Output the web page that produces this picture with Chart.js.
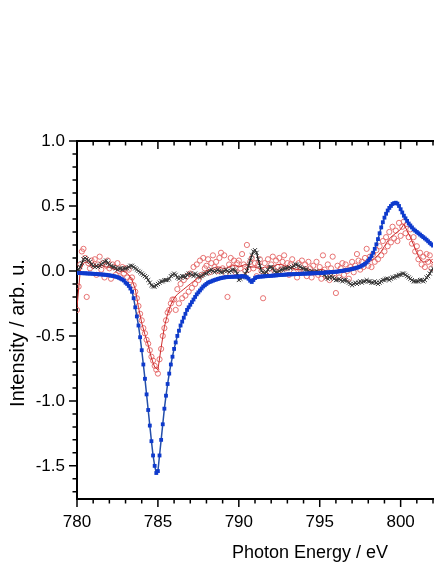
<!DOCTYPE html>
<html>
<head>
<meta charset="utf-8">
<script src="https://cdn.jsdelivr.net/npm/chart.js@4"></script>
<style>
  html, body { margin: 0; padding: 0; background: #fff; overflow: hidden; }
  #wrap { width: 438px; height: 564px; }
</style>
</head>
<body>
<div id="wrap"><canvas id="chart" width="438" height="564"></canvas></div>
<script>
// photon energy grid (eV)
const E_START = 780;
const FINE_STEP = 0.1;   // blue squares, red circles, black crosses
const COARSE_STEP = 0.2; // smoothed red line

const xMajorTicks = [780, 785, 790, 795, 800];
const yMajorTicks = [-1.5, -1.0, -0.5, 0.0, 0.5, 1.0];

// blue squares, 780.0 ... 802.0 every 0.1 eV
const blueVals = [
  -0.015, -0.016, -0.016, -0.017, -0.018, -0.018, -0.019, -0.020, -0.020, -0.021,
  -0.022, -0.023, -0.024, -0.025, -0.026, -0.027, -0.028, -0.029, -0.030, -0.032,
  -0.034, -0.036, -0.038, -0.041, -0.044, -0.048, -0.053, -0.059, -0.066, -0.074,
  -0.090, -0.100, -0.115, -0.135, -0.160, -0.210, -0.280, -0.350, -0.420, -0.510,
  -0.610, -0.720, -0.830, -0.950, -1.070, -1.190, -1.310, -1.420, -1.500, -1.555,
  -1.540, -1.420, -1.300, -1.180, -1.060, -0.960, -0.870, -0.790, -0.720, -0.660,
  -0.600, -0.550, -0.500, -0.460, -0.420, -0.390, -0.360, -0.330, -0.300, -0.280,
  -0.260, -0.240, -0.220, -0.200, -0.180, -0.165, -0.150, -0.135, -0.120, -0.110,
  -0.100, -0.090, -0.085, -0.080, -0.075, -0.070, -0.066, -0.062, -0.058, -0.055,
  -0.052, -0.050, -0.048, -0.047, -0.046, -0.045, -0.045, -0.044, -0.044, -0.043,
  -0.043, -0.042, -0.040, -0.042, -0.045, -0.050, -0.060, -0.075, -0.085, -0.070,
  -0.055, -0.048, -0.045, -0.044, -0.043, -0.042, -0.041, -0.040, -0.039, -0.038,
  -0.037, -0.036, -0.035, -0.034, -0.033, -0.032, -0.031, -0.030, -0.029, -0.028,
  -0.027, -0.026, -0.026, -0.025, -0.025, -0.024, -0.023, -0.023, -0.022, -0.022,
  -0.021, -0.021, -0.020, -0.020, -0.019, -0.019, -0.018, -0.018, -0.017, -0.017,
  -0.016, -0.015, -0.014, -0.013, -0.012, -0.011, -0.010, -0.009, -0.008, -0.007,
  -0.006, -0.005, -0.003, -0.001, 0.001, 0.003, 0.005, 0.007, 0.009, 0.012,
  0.015, 0.018, 0.021, 0.025, 0.029, 0.034, 0.040, 0.047, 0.055, 0.065,
  0.080, 0.095, 0.115, 0.140, 0.170, 0.205, 0.245, 0.290, 0.335, 0.375,
  0.410, 0.440, 0.465, 0.485, 0.500, 0.515, 0.522, 0.525, 0.518, 0.500,
  0.475, 0.450, 0.425, 0.405, 0.385, 0.365, 0.350, 0.335, 0.320, 0.310,
  0.300, 0.290, 0.280, 0.270, 0.260, 0.250, 0.240, 0.228, 0.216, 0.205,
  0.195
];

// red open circles, 780.0 ... 802.0 every 0.1 eV
const redPoints = [
  -0.30, -0.12, 0.05, 0.15, 0.17, 0.10, -0.20, 0.06, 0.02, 0.08,
  0.04, 0.09, -0.03, 0.05, 0.11, 0.01, 0.06, -0.05, 0.04, 0.08,
  0.02, -0.06, 0.05, 0.03, -0.03, 0.06, 0.00, -0.05, 0.03, -0.02,
  0.02, -0.05, 0.01, -0.07, -0.05, -0.11, -0.16, -0.21, -0.27, -0.33,
  -0.38, -0.44, -0.48, -0.53, -0.56, -0.61, -0.66, -0.69, -0.73, -0.76,
  -0.79, -0.68, -0.60, -0.50, -0.44, -0.38, -0.32, -0.30, -0.25, -0.22,
  -0.22, -0.30, -0.14, -0.25, -0.10, -0.21, -0.07, -0.19, -0.04, -0.16,
  -0.02, -0.13, 0.03, -0.10, 0.05, -0.07, 0.08, -0.03, 0.10, 0.02,
  0.04, 0.09, -0.01, 0.06, 0.12, 0.03, 0.07, 0.00, 0.10, 0.14,
  0.02, 0.12, -0.02, -0.20, 0.05, 0.10, 0.03, 0.08, -0.01, 0.06,
  0.08, 0.02, 0.13, 0.05, 0.00, 0.20, 0.01, 0.07, 0.10, 0.02,
  0.06, -0.04, 0.05, 0.09, 0.00, -0.21, 0.06, -0.03, 0.09, 0.02,
  0.05, 0.11, 0.00, 0.08, 0.03, 0.10, 0.01, 0.07, 0.12, 0.02,
  0.06, -0.03, 0.05, 0.09, -0.01, 0.03, -0.05, 0.06, 0.01, 0.08,
  0.00, 0.05, -0.04, 0.07, 0.02, -0.05, 0.04, -0.01, 0.07, -0.03,
  0.03, -0.06, 0.12, 0.01, -0.04, 0.05, -0.07, 0.02, 0.11, -0.02,
  -0.17, 0.04, -0.05, 0.02, 0.06, -0.03, 0.05, 0.00, -0.06, 0.03,
  0.07, -0.01, 0.04, 0.13, 0.08, 0.01, 0.07, 0.03, 0.10, 0.17,
  0.04, 0.11, 0.03, 0.13, 0.07, 0.16, 0.09, 0.19, 0.12, 0.23,
  0.15, 0.26, 0.19, 0.30, 0.22, 0.34, 0.25, 0.31, 0.23, 0.37,
  0.27, 0.34, 0.38, 0.29, 0.36, 0.26, 0.32, 0.21, 0.26, 0.15,
  0.19, 0.09, 0.14, 0.05, 0.11, 0.03, 0.13, 0.07, 0.12, 0.02,
  0.07
];

// smoothed red line, 780.0 ... 802.0 every 0.2 eV
const redSmooth = [
  -0.28, 0.00, 0.06, 0.07, 0.05, 0.04, 0.04, 0.05, 0.04, 0.03,
  0.03, 0.02, 0.01, 0.00, 0.00, -0.01, -0.03, -0.07, -0.14, -0.28,
  -0.40, -0.49, -0.57, -0.67, -0.74, -0.76, -0.59, -0.43, -0.33, -0.26,
  -0.21, -0.18, -0.16, -0.14, -0.12, -0.10, -0.08, -0.06, -0.04, -0.02,
  0.00, 0.01, 0.02, 0.03, 0.03, 0.02, 0.02, 0.03, 0.04, 0.04,
  0.03, 0.04, 0.05, 0.04, 0.03, 0.03, 0.02, 0.02, 0.03, 0.03,
  0.03, 0.04, 0.05, 0.05, 0.04, 0.03, 0.02, 0.02, 0.01, 0.01,
  0.02, 0.02, 0.01, 0.00, 0.00, 0.01, 0.01, 0.00, -0.01, -0.01,
  0.00, 0.01, 0.01, 0.02, 0.02, 0.03, 0.03, 0.04, 0.05, 0.06,
  0.07, 0.08, 0.10, 0.12, 0.15, 0.19, 0.23, 0.26, 0.28, 0.30,
  0.32, 0.36, 0.31, 0.26, 0.20, 0.14, 0.09, 0.07, 0.07, 0.09,
  0.06
];

// black crosses, 780.0 ... 802.0 every 0.1 eV
const blackVals = [
  -0.01, 0.01, 0.03, 0.06, 0.09, 0.10, 0.09, 0.08, 0.07, 0.05,
  0.04, 0.03, 0.04, 0.03, 0.04, 0.05, 0.06, 0.07, 0.08, 0.06,
  0.05, 0.04, 0.03, 0.03, 0.02, 0.01, 0.02, 0.02, 0.01, 0.02,
  0.02, 0.02, 0.03, 0.04, 0.04, 0.03, 0.02, 0.01, 0.00, -0.01,
  -0.02, -0.03, -0.04, -0.05, -0.07, -0.09, -0.11, -0.12, -0.12, -0.11,
  -0.10, -0.09, -0.08, -0.08, -0.07, -0.07, -0.07, -0.06, -0.04, -0.03,
  -0.02, -0.03, -0.05, -0.06, -0.05, -0.04, -0.04, -0.05, -0.03, -0.02,
  -0.02, -0.03, -0.04, -0.02, -0.03, -0.04, -0.05, -0.04, -0.03, -0.02,
  -0.02, -0.01, 0.00, 0.01, 0.00, -0.01, 0.00, 0.01, 0.00, -0.01,
  -0.01, 0.00, 0.01, 0.00, -0.01, 0.00, 0.01, 0.01, 0.00, -0.02,
  -0.07, -0.06, -0.05, -0.04, -0.02, 0.00, 0.04, 0.08, 0.12, 0.15,
  0.16, 0.14, 0.09, 0.04, 0.00, -0.01, -0.02, -0.01, 0.01, 0.03,
  0.03, 0.02, 0.00, -0.01, -0.01, 0.00, 0.01, 0.01, 0.02, 0.02,
  0.02, 0.03, 0.02, 0.03, 0.04, 0.05, 0.05, 0.04, 0.03, 0.02,
  0.02, 0.01, 0.01, 0.00, -0.01, 0.00, -0.01, -0.01, 0.00, -0.01,
  -0.01, -0.02, -0.01, -0.03, -0.05, -0.06, -0.05, -0.04, -0.05, -0.06,
  -0.07, -0.07, -0.06, -0.07, -0.08, -0.07, -0.07, -0.08, -0.09, -0.10,
  -0.11, -0.10, -0.09, -0.10, -0.09, -0.08, -0.09, -0.08, -0.08, -0.07,
  -0.08, -0.08, -0.09, -0.09, -0.08, -0.09, -0.10, -0.09, -0.08, -0.07,
  -0.07, -0.06, -0.06, -0.07, -0.06, -0.05, -0.05, -0.04, -0.04, -0.03,
  -0.03, -0.02, -0.02, -0.03, -0.04, -0.05, -0.06, -0.07, -0.08, -0.08,
  -0.08, -0.08, -0.07, -0.07, -0.08, -0.07, -0.05, -0.04, -0.02, 0.00,
  0.02
];

const FONT = "'Liberation Sans', Arial, sans-serif";

function toXY(vals, step) {
    return vals.map((v, i) => ({ x: +(E_START + i * step).toFixed(2), y: v }));
}

// draws major/minor ticks on left, bottom and top axes plus the axis titles
const axisDecor = {
    id: 'axisDecor',
    afterDraw(chart) {
        const { ctx, chartArea: a, scales: { x, y } } = chart;
        ctx.save();
        ctx.strokeStyle = '#000';
        ctx.lineWidth = 1.5;
        ctx.beginPath();
        for (let e = 780; e <= 802; e++) {
            const px = x.getPixelForValue(e);
            const len = e % 5 === 0 ? 8 : 4.5;
            ctx.moveTo(px, a.bottom);
            ctx.lineTo(px, a.bottom + len);
            ctx.moveTo(px, a.top);
            ctx.lineTo(px, a.top + len);
        }
        for (let k = -17; k <= 10; k++) {
            const py = y.getPixelForValue(k / 10);
            const len = k % 5 === 0 ? 8 : 4.5;
            ctx.moveTo(a.left, py);
            ctx.lineTo(a.left - len, py);
        }
        ctx.stroke();

        ctx.fillStyle = '#000';
        ctx.textAlign = 'center';
        ctx.textBaseline = 'alphabetic';
        ctx.font = `18px ${FONT}`;
        ctx.fillText('Photon Energy / eV', 310, 558);

        ctx.font = `20px ${FONT}`;
        ctx.translate(23.5, 333);
        ctx.rotate(-Math.PI / 2);
        ctx.fillText('Intensity / arb. u.', 0, 0);
        ctx.restore();
    }
};

const ctx = document.getElementById('chart').getContext('2d');
new Chart(ctx, {
    type: 'line',
    data: {
        datasets: [
            {
                label: 'blue',
                data: toXY(blueVals, FINE_STEP),
                borderColor: 'rgb(35, 78, 170)',
                borderWidth: 1.5,
                pointStyle: 'rect',
                pointRadius: 2.7,
                pointBorderWidth: 0,
                pointBackgroundColor: 'rgb(14, 58, 205)',
                order: 0
            },
            {
                label: 'black',
                data: toXY(blackVals, FINE_STEP),
                borderColor: '#111',
                borderWidth: 1.3,
                pointStyle: 'crossRot',
                pointRadius: 2.9,
                pointBorderWidth: 1,
                pointBorderColor: 'rgb(60, 60, 60)',
                order: 1
            },
            {
                label: 'red line',
                data: toXY(redSmooth, COARSE_STEP),
                borderColor: 'rgb(205, 45, 45)',
                borderWidth: 1,
                pointRadius: 0,
                order: 2
            },
            {
                label: 'red',
                data: toXY(redPoints, FINE_STEP),
                showLine: false,
                pointStyle: 'circle',
                pointRadius: 2.6,
                pointBorderWidth: 0.9,
                pointBorderColor: 'rgb(228, 100, 100)',
                pointBackgroundColor: 'rgba(0,0,0,0)',
                order: 3
            }
        ]
    },
    options: {
        responsive: false,
        animation: false,
        layout: { padding: 0 },
        elements: { line: { tension: 0 } },
        plugins: { legend: { display: false }, tooltip: { enabled: false } },
        scales: {
            x: {
                type: 'linear',
                position: 'bottom',
                min: 780,
                max: 802,
                afterFit: s => { s.height = 65; },
                afterBuildTicks: s => { s.ticks = xMajorTicks.map(v => ({ value: v })); },
                grid: { display: false, drawTicks: false },
                border: { display: true, color: '#000', width: 2 },
                ticks: {
                    color: '#000',
                    font: { size: 17, family: FONT },
                    padding: 13,
                    maxRotation: 0,
                    autoSkip: false,
                    callback: v => String(v)
                }
            },
            xTop: {
                type: 'linear',
                position: 'top',
                min: 780,
                max: 802,
                afterFit: s => { s.height = 141; },
                grid: { display: false, drawTicks: false },
                border: { display: true, color: '#000', width: 2 },
                ticks: { display: false }
            },
            y: {
                type: 'linear',
                position: 'left',
                min: -1.755,
                max: 1.0,
                afterFit: s => { s.width = 77; },
                afterBuildTicks: s => { s.ticks = yMajorTicks.map(v => ({ value: v })); },
                grid: { display: false, drawTicks: false },
                border: { display: true, color: '#000', width: 2 },
                ticks: {
                    color: '#000',
                    font: { size: 17, family: FONT },
                    padding: 12,
                    autoSkip: false,
                    callback: v => v.toFixed(1)
                }
            }
        }
    },
    plugins: [axisDecor]
});
</script>
</body>
</html>
